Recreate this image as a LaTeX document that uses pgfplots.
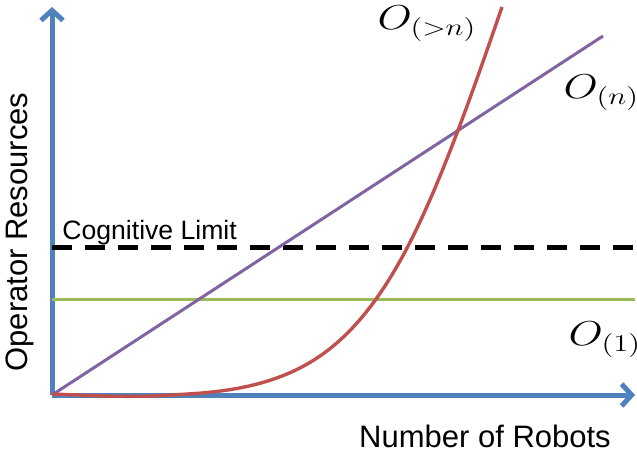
\documentclass[border=0pt]{standalone}
\usepackage{pgfplots}
\pgfplotsset{compat=1.18}
\usepackage{fontspec}
\setmainfont{Liberation Sans}
\usetikzlibrary{arrows.meta}
\definecolor{axblue}{HTML}{4F81BD}
\definecolor{linered}{HTML}{C0504D}
\definecolor{linegreen}{HTML}{9BBB59}
\definecolor{linepurple}{HTML}{8064A2}

\begin{document}
\begin{tikzpicture}
\useasboundingbox (0,0) rectangle (318.5pt,228.5pt);
\begin{axis}[
  at={(26pt,31pt)}, anchor=origin,
  x=0.5pt, y=0.5pt,
  xmin=0, xmax=583, ymin=0, ymax=388,
  axis lines=left,
  xtick=\empty, ytick=\empty,
  axis line style={axblue, line width=2.5pt, -{Straight Barb[length=5pt,width=11pt]}},
  clip=false,
]
% cognitive limit
\addplot[black, line width=2.5pt, dash pattern=on 10pt off 6.5pt] coordinates {(0,148) (585,148)};
% O(1)
\addplot[linegreen, line width=1.5pt] coordinates {(0,96) (583,96)};
% O(n)
\addplot[linepurple, line width=1.5pt] coordinates {(0,0) (551,359)};
% O(>n)
\addplot[linered, line width=1.7pt, smooth, tension=0.5] coordinates {
  (0,1) (25,0) (50,-1) (75,-1.3) (100,-1) (125,0.3) (150,2)
  (160,3) (170,4.2) (180,5.7) (190,7.5) (200,9.7) (210,12.3) (220,15.4)
  (230,19) (240,23.2) (250,28.1) (260,33.8) (270,40.4) (280,48)
  (290,56.7) (300,66.6) (310,77.8) (320,90.4) (330,104.5) (340,120.2)
  (350,137.6) (360,156.7) (370,177.5) (380,199.9) (390,223.8) (400,249)
  (410,275.3) (420,302.5) (430,330.5) (440,359.1) (450,388)
};
\node[anchor=base west, inner sep=0pt, font=\fontsize{13.3}{15}\selectfont] at (axis cs:10,156) {Cognitive Limit};
\node[rotate=90, inner sep=0pt, font=\fontsize{15.5}{17}\selectfont] at (axis cs:-32,163) {Operator Resources};
\node[anchor=base, inner sep=0pt, font=\fontsize{15.5}{17}\selectfont] at (axis cs:433,-52) {Number of Robots};
\node[anchor=base west, inner sep=0pt, xscale=1.28, font=\fontsize{17.5}{20}\selectfont] at (axis cs:325,366) {$O_{(>n)}$};
\node[anchor=base west, inner sep=0pt, xscale=1.28, font=\fontsize{17.5}{20}\selectfont] at (axis cs:511,297) {$O_{(n)}$};
\node[anchor=base west, inner sep=0pt, xscale=1.28, font=\fontsize{17.5}{20}\selectfont] at (axis cs:516,50) {$O_{(1)}$};
\end{axis}
\end{tikzpicture}
\end{document}
